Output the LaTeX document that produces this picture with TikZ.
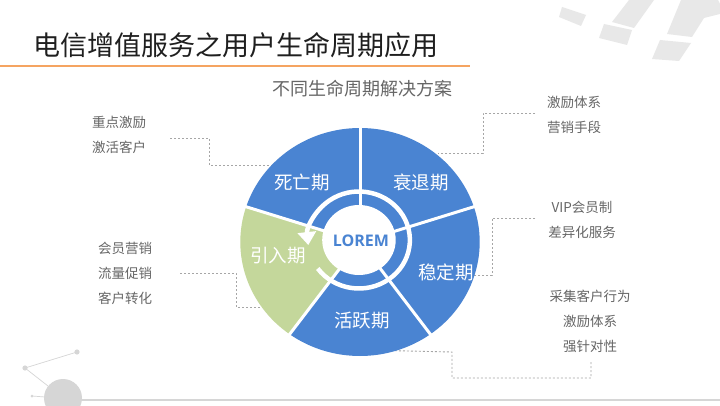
\documentclass[tikz,border=0pt]{standalone}
\usepackage{fontspec}
\setmainfont{Noto Sans CJK SC}
\newfontfamily\cjkfont{Noto Sans CJK SC}
\newfontfamily\loremfont{Open Sans}
\usetikzlibrary{arrows.meta}
\definecolor{pieblue}{HTML}{4A84D2}
\definecolor{piegreen}{HTML}{C4D79B}
\definecolor{txtgray}{HTML}{666666}
\definecolor{dashgray}{HTML}{A6A6A6}
\definecolor{orangeline}{HTML}{F5A461}
\definecolor{decogray}{HTML}{E8E8E8}
\definecolor{dotgray}{HTML}{D6D6D6}
\tikzset{
  titletext/.style={inner sep=0pt, font=\cjkfont\fontsize{27}{30}\selectfont, text=black!88},
  subtext/.style={inner sep=0pt, font=\cjkfont\fontsize{18}{20}\selectfont, text=txtgray},
  notetext/.style={inner sep=0pt, font=\cjkfont\fontsize{13.5}{25}\selectfont, text=txtgray},
  pielabel/.style={inner sep=0pt, font=\cjkfont\fontsize{18.5}{20}\selectfont, text=white},
  leader/.style={draw=dashgray, line width=0.9pt, dash pattern=on 2pt off 2pt},
  sepline/.style={draw=white, line width=3pt},
  decoshape/.style={fill=decogray, draw=none},
}
\begin{document}
\begin{tikzpicture}[x=1pt,y=-1pt]
\useasboundingbox (0,0) rectangle (720,406);
\fill[white] (0,0) rectangle (720,406);

% top-right decoration
\fill[decoshape] (562,7) -- (586,15) -- (581,26) -- (559,17) -- cycle;
\fill[decoshape] (604,24) -- (632,30) -- (627,45) -- (599,38) -- cycle;
\fill[decoshape] (629,0) -- (654,0) -- (634,28) -- (612,22) -- cycle;
\fill[decoshape] (660,40) -- (691,43) -- (679,61) -- (652,59) -- cycle;
\fill[decoshape] (681,0) -- (718,0) -- (720,4) -- (720,14) -- (704,18) -- (692,37) -- (667,34) -- cycle;

% bottom-left decoration
\coordinate (d1) at (77,352);
\coordinate (d2) at (25,368);
\coordinate (d3) at (32,396);
\coordinate (dc) at (63,398);
\draw[dotgray, line width=0.7pt] (d1) -- (d2) -- (48,386);
\draw[dotgray, line width=0.7pt] (d3) -- (45,397);
\fill[dotgray] (d1) circle (2.6);
\fill[dotgray] (d2) circle (2.6);
\fill[dotgray] (d3) circle (1.5);
\draw[dotgray, line width=2.7pt] (dc) ++(0,2) -- (720,400);
\fill[dotgray] (dc) circle (19);

% title
\node[titletext, anchor=west] (title) at (33,45) {电信增值服务之用户生命周期应用};
\coordinate (ol1) at (0,66);
\coordinate (ol2) at (470,66);
\draw[orangeline, line width=2pt] (ol1) -- (ol2);

\node[subtext] (sub) at (362,89) {不同生命周期解决方案};

% annotations
\node[notetext, anchor=west, align=left] (n1) at (92,134.5) {重点激励\\激活客户};
\node[notetext, anchor=west, align=left] (n2) at (98,273) {会员营销\\流量促销\\客户转化};
\node[notetext, anchor=west, align=left] (n3) at (547,114.5) {激励体系\\营销手段};
\node[notetext, align=center] (n4) at (582,220) {VIP会员制\\差异化服务};
\node[notetext, align=center] (n5) at (590,321) {采集客户行为\\激励体系\\强针对性};

% leader lines (drawn under the pie)
\coordinate (l1s) at (170,138);
\coordinate (l1e) at (285,165);
\draw[leader] (l1s) -- (209,138) -- (209,165) -- (l1e);
\coordinate (l2s) at (180,273);
\coordinate (l2e) at (266,307);
\draw[leader] (l2s) -- (236,273) -- (236,307) -- (l2e);
\coordinate (l3s) at (535,113);
\coordinate (l3e) at (438,153);
\draw[leader] (l3s) -- (483,113) -- (483,153) -- (l3e);
\coordinate (l4s) at (535,218);
\coordinate (l4e) at (470,275);
\draw[leader] (l4s) -- (492,218) -- (492,275) -- (l4e);
\coordinate (l5s) at (363,350);
\coordinate (l5e) at (591,362);
\draw[leader] (l5s) -- (452,352) -- (452,378) -- (591,378) -- (l5e);

% pie
\begin{scope}[shift={(360,242)}, yscale=-1, xscale=1.05]
  \fill[pieblue] (0,0) -- (18:114) arc[start angle=18, end angle=90, radius=114] -- cycle;
  \fill[pieblue] (0,0) -- (-54:114) arc[start angle=-54, end angle=18, radius=114] -- cycle;
  \fill[pieblue] (0,0) -- (-126:114) arc[start angle=-126, end angle=-54, radius=114] -- cycle;
  \fill[piegreen] (0,0) -- (162:114) arc[start angle=162, end angle=234, radius=114] -- cycle;
  \fill[pieblue] (0,0) -- (90:114) arc[start angle=90, end angle=162, radius=114] -- cycle;
  \foreach \a in {90,18,-54,-126,162} {
    \draw[sepline] (0,0) -- (\a:117);
  }
  \begin{scope}[shift={(-1,2)}]
    \draw[white, line width=4.5pt, -{Triangle[width=18pt,length=13pt]}]
      (216:48.5) arc[start angle=216, end angle=546, radius=48.5];
    \fill[white] (0,0) circle (35);
  \end{scope}
\end{scope}

\node[pielabel] (p1) at (302,182) {死亡期};
\node[pielabel] (p2) at (421,182) {衰退期};
\node[pielabel] (p3) at (446,272) {稳定期};
\node[pielabel] (p4) at (362,321) {活跃期};
\node[pielabel] (p5) at (278,256) {引入期};
\node[inner sep=0pt, font=\loremfont\bfseries\fontsize{16}{18}\selectfont, text=pieblue] (lorem) at (361,241) {LOREM};
\end{tikzpicture}
\end{document}
